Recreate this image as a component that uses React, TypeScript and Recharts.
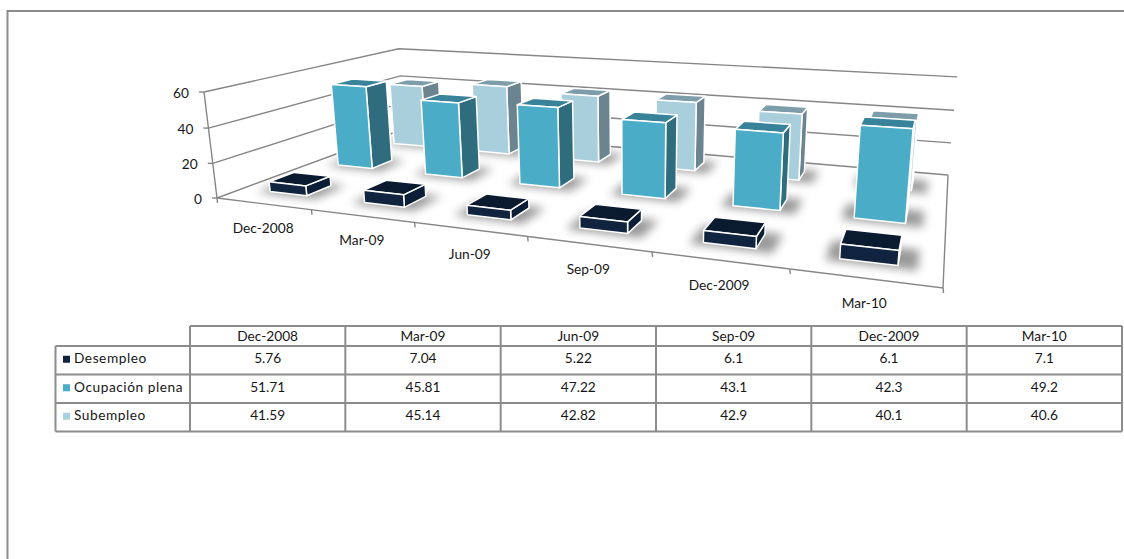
import React from "react";
import { Bar, BarChart, CartesianGrid, XAxis, YAxis } from "recharts";

// Labour market shares by quarter
const categories = ["Dec-2008", "Mar-09", "Jun-09", "Sep-09", "Dec-2009", "Mar-10"];
const desempleo = [5.76, 7.04, 5.22, 6.1, 6.1, 7.1];
const ocupacionPlena = [51.71, 45.81, 47.22, 43.1, 42.3, 49.2];
const subempleo = [41.59, 45.14, 42.82, 42.9, 40.1, 40.6];
const valueTicks = [0, 20, 40, 60];

const rows = categories.map((category, i) => ({
  category,
  desempleo: desempleo[i],
  ocupacionPlena: ocupacionPlena[i],
  subempleo: subempleo[i],
}));

const WIDTH = 1124;
const HEIGHT = 559;
const AXIS_SIZE = 1;
const MARGIN = { top: 60, right: 180, bottom: 269, left: 219 };
const PLOT_LEFT = MARGIN.left + AXIS_SIZE;
const PLOT_W = WIDTH - PLOT_LEFT - MARGIN.right;
const PLOT_H = HEIGHT - MARGIN.top - MARGIN.bottom - AXIS_SIZE;
const PLOT_BOTTOM = MARGIN.top + PLOT_H;
const MAX_VALUE = 60;

const FONT = "Lato, 'Open Sans', sans-serif";
const FONT_SIZE = 13.7;
const LINE = "#868686";
const INK = "#161616";

type Pt = [number, number];

// Square-to-quad homography: corners are front-left, front-right, back-right, back-left.
const homography = (q: Pt[]) => {
  const [[x0, y0], [x1, y1], [x2, y2], [x3, y3]] = q;
  const dx1 = x1 - x2, dx2 = x3 - x2, dy1 = y1 - y2, dy2 = y3 - y2;
  const sx = x0 - x1 + x2 - x3, sy = y0 - y1 + y2 - y3;
  const den = dx1 * dy2 - dx2 * dy1;
  const g = (sx * dy2 - dx2 * sy) / den;
  const h = (dx1 * sy - sx * dy1) / den;
  const a = x1 - x0 + g * x1, b = x3 - x0 + h * x3;
  const d = y1 - y0 + g * y1, e = y3 - y0 + h * y3;
  return (s: number, t: number) => ({
    X: a * s + b * t + x0,
    Y: d * s + e * t + y0,
    W: g * s + h * t + 1,
  });
};

// Camera model: the floor plane plus the vanishing point of the vertical direction.
const floorAt = homography([[217, 198], [943, 288], [948, 175], [404, 129]]);
const VERTICAL_VP: Pt = [632, 3582];
const RISE = -0.03037;

const project = (s: number, t: number, v: number): Pt => {
  const { X, Y, W } = floorAt(s, t);
  const k = RISE * (v / MAX_VALUE);
  const w = W + k;
  return [(X + k * VERTICAL_VP[0]) / w, (Y + k * VERTICAL_VP[1]) / w];
};

const pathOf = (pts: Pt[], close = false) =>
  pts.map((p, i) => `${i ? "L" : "M"}${p[0].toFixed(1)},${p[1].toFixed(1)}`).join("") + (close ? "Z" : "");

const BAR_DEPTH = 0.115;

type Palette = { front: string; side: string; top: string };
const palettes: Palette[] = [
  { front: "#10243F", side: "#0C1E35", top: "#0B1B2F" },
  { front: "#4BACC7", side: "#2F6D7E", top: "#39839A" },
  { front: "#A9CEDC", side: "#6B8490", top: "#7E9DAA" },
];

// Draws one bar as a box, using the rectangle the bar scale hands over.
const makeBox = (seriesIndex: number) => (props: any) => {
  const { x, width, height } = props;
  const p = palettes[seriesIndex];
  const s0 = (x - PLOT_LEFT) / PLOT_W;
  const s1 = (x + width - PLOT_LEFT) / PLOT_W;
  const v = (height / PLOT_H) * MAX_VALUE;
  const mid = (2 * seriesIndex + 1) / 6;
  const t0 = mid - BAR_DEPTH / 2;
  const t1 = mid + BAR_DEPTH / 2;
  const front = [project(s0, t0, 0), project(s1, t0, 0), project(s1, t0, v), project(s0, t0, v)];
  const side = [project(s1, t0, 0), project(s1, t1, 0), project(s1, t1, v), project(s1, t0, v)];
  const top = [project(s0, t0, v), project(s1, t0, v), project(s1, t1, v), project(s0, t1, v)];
  const shadow = [
    project(s0 - 0.016, t0 - 0.02, 0),
    project(s1 + 0.022, t0 - 0.02, 0),
    project(s1 + 0.022, t1 + 0.015, 0),
    project(s0 - 0.016, t1 + 0.015, 0),
  ];
  const edge = { stroke: "#fff", strokeWidth: 1.5, strokeLinejoin: "round" as const };
  return (
    <g>
      <path d={pathOf(shadow, true)} fill="#000" opacity={0.4} style={{ filter: "blur(5px)" }} />
      <path d={pathOf(side, true)} fill={p.side} {...edge} />
      <path d={pathOf(top, true)} fill={p.top} {...edge} />
      <path d={pathOf(front, true)} fill={p.front} {...edge} />
    </g>
  );
};

// Each grid value becomes a line along the left wall and the back wall.
const WallLine = (props: any) => {
  const v = ((PLOT_BOTTOM - props.y1) / PLOT_H) * MAX_VALUE;
  const style = { stroke: LINE, strokeWidth: 1.4, fill: "none" };
  const wall = [project(0, 0, v), project(0, 1, v), project(1, 1, v)];
  const isFloor = Math.abs(v) < 1e-6;
  return (
    <g key={`wall-${props.index}`}>
      <path d={pathOf(wall)} {...style} />
      {isFloor && (
        <>
          <path d={pathOf([project(0, 0, 0), project(0, 0, MAX_VALUE)])} {...style} />
          <path d={pathOf([project(0, 0, 0), project(1, 0, 0), project(1, 1, 0)])} {...style} />
          {categories.concat("").map((_, i) => {
            const [px, py] = project(i / categories.length, 0, 0);
            return <path key={i} d={`M${px},${py}L${px + 0.5},${py + 5}`} {...style} />;
          })}
        </>
      )}
    </g>
  );
};

const ValueTick = (props: any) => {
  const v = ((PLOT_BOTTOM - props.y) / PLOT_H) * MAX_VALUE;
  const [px, py] = project(0, 0, v);
  return (
    <g>
      <path d={`M${px - 5},${py}H${px}`} stroke={LINE} strokeWidth={1.4} />
      <text x={px - 15} y={py} textAnchor="end" dominantBaseline="central" fontFamily={FONT} fontSize={FONT_SIZE} fill={INK}>
        {props.payload.value}
      </text>
    </g>
  );
};

const CategoryTick = (props: any) => {
  const s = (props.x - PLOT_LEFT) / PLOT_W;
  const [px, py] = project(s, 0, 0);
  return (
    <text x={px} y={py + 24} textAnchor="middle" dominantBaseline="central" fontFamily={FONT} fontSize={FONT_SIZE} fill={INK}>
      {props.payload.value}
    </text>
  );
};

// Data table under the plot, with the legend keys in its first column.
const TABLE_X0 = 55.5;
const TABLE_X1 = 190;
const TABLE_X2 = 1122;
const TABLE_Y = [326, 346, 374.5, 403, 431.5];
const series = [
  { name: "Desempleo", values: desempleo, swatch: "#10243F" },
  { name: "Ocupación plena", values: ocupacionPlena, swatch: "#4BACC7" },
  { name: "Subempleo", values: subempleo, swatch: "#A9D2E0" },
];

const DataTable = () => {
  const colW = (TABLE_X2 - TABLE_X1) / categories.length;
  const text = { fontFamily: FONT, fontSize: FONT_SIZE, fill: INK, dominantBaseline: "central" as const };
  const rule = { stroke: "#8C8C8C", strokeWidth: 2, fill: "none" };
  return (
    <g>
      {TABLE_Y.map((y, i) => (
        <path key={`h${i}`} d={`M${i === 0 ? TABLE_X1 : TABLE_X0},${y}H${TABLE_X2}`} {...rule} />
      ))}
      <path d={`M${TABLE_X0},${TABLE_Y[1]}V${TABLE_Y[4]}`} {...rule} />
      {categories.concat("").map((_, i) => (
        <path key={`v${i}`} d={`M${TABLE_X1 + i * colW},${TABLE_Y[0]}V${TABLE_Y[4]}`} {...rule} />
      ))}
      {categories.map((c, i) => (
        <text key={c} x={TABLE_X1 + (i + 0.5) * colW} y={TABLE_Y[0] + 9} textAnchor="middle" {...text}>
          {c}
        </text>
      ))}
      {series.map((row, r) => {
        const cy = (TABLE_Y[r + 1] + TABLE_Y[r + 2]) / 2 - 2.5;
        return (
          <g key={row.name}>
            <rect x={63} y={cy - 2} width={7} height={7} fill={row.swatch} />
            <text x={74} y={cy} letterSpacing={0.55} {...text}>{row.name}</text>
            {row.values.map((val, i) => (
              <text key={i} x={TABLE_X1 + (i + 0.5) * colW} y={cy} textAnchor="middle" {...text}>
                {val}
              </text>
            ))}
          </g>
        );
      })}
    </g>
  );
};

export default function App() {
  return (
    <div style={{ position: "absolute", left: 0, top: 0, width: WIDTH, height: HEIGHT, background: "#fff" }}>
      <BarChart width={WIDTH} height={HEIGHT} data={rows} margin={MARGIN} barCategoryGap="30%">
        <path d={`M7.5,${HEIGHT}V11H${WIDTH}`} stroke="#8C8C8C" strokeWidth={2} fill="none" />
        <CartesianGrid xAxisId="d0" horizontal={WallLine} vertical={false} />
        <XAxis xAxisId="d0" dataKey="category" height={AXIS_SIZE} axisLine={false} tickLine={false} interval={0} tick={CategoryTick} />
        <XAxis xAxisId="d1" dataKey="category" hide />
        <XAxis xAxisId="d2" dataKey="category" hide />
        <YAxis width={AXIS_SIZE} domain={[0, MAX_VALUE]} ticks={valueTicks} axisLine={false} tickLine={false} tick={ValueTick} />
        <Bar xAxisId="d2" dataKey="subempleo" shape={makeBox(2)} isAnimationActive={false} />
        <Bar xAxisId="d1" dataKey="ocupacionPlena" shape={makeBox(1)} isAnimationActive={false} />
        <Bar xAxisId="d0" dataKey="desempleo" shape={makeBox(0)} isAnimationActive={false} />
        <DataTable />
      </BarChart>
    </div>
  );
}
